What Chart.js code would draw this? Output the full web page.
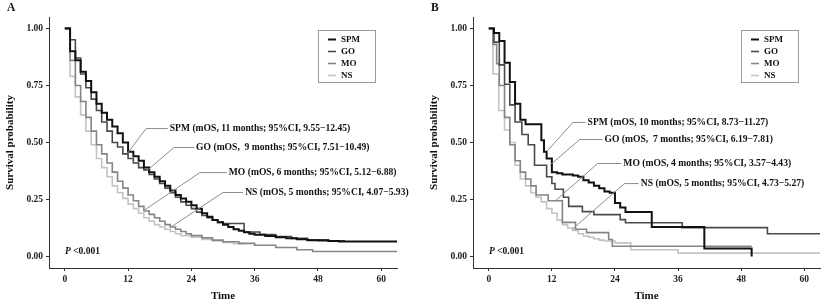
<!DOCTYPE html>
<html>
<head>
<meta charset="utf-8">
<script src="https://cdn.jsdelivr.net/npm/chart.js@4.4.0/dist/chart.umd.min.js"></script>
<style>
    body { margin: 0; background: #fff; }
    #wrap { position: relative; width: 824px; height: 305px; }
    canvas { position: absolute; top: 0; }
    #chartA { left: 0; }
    #chartB { left: 412px; }
</style>
</head>
<body>
<div id="wrap">
    <canvas id="chartA" width="412" height="305"></canvas>
    <canvas id="chartB" width="412" height="305"></canvas>
</div>
<script>
// groups and axis ticks
const groups = ['SPM', 'GO', 'MO', 'NS'];
const xTicks = [0, 12, 24, 36, 48, 60];
const yTicks = [0, 0.25, 0.5, 0.75, 1];

// panel A survival curves (time in months, survival probability)
const timeA_SPM = [0,1,2,3,4,5,6,7,8,9,10,11,12,13,14,15,16,17,18,19,20,21,22,23,24,25,26,27,28,29,30,31,32,33,34,35,36,38,40,42,44,46,48,50,52,63];
const survA_SPM = [1,0.90,0.86,0.81,0.77,0.72,0.67,0.63,0.60,0.57,0.54,0.50,0.46,0.44,0.42,0.39,0.37,0.35,0.33,0.31,0.29,0.27,0.255,0.24,0.225,0.21,0.19,0.175,0.16,0.15,0.14,0.13,0.12,0.113,0.107,0.10,0.096,0.09,0.085,0.08,0.076,0.072,0.07,0.068,0.066,0.066];
const timeA_GO = [0,1,2,3,4,5,6,7,8,9,10,11,12,13,14,15,16,17,18,19,20,21,22,23,24,25,26,27,28,29,30,34,37,40,43,46,50,53];
const survA_GO = [1,0.95,0.87,0.80,0.74,0.69,0.64,0.59,0.55,0.50,0.48,0.45,0.43,0.41,0.39,0.38,0.36,0.34,0.32,0.30,0.28,0.26,0.24,0.225,0.21,0.195,0.18,0.17,0.16,0.15,0.145,0.108,0.097,0.088,0.08,0.074,0.069,0.066];
const timeA_MO = [0,1,2,3,4,5,6,7,8,9,10,11,12,13,14,15,16,17,18,19,20,21,22,23,24,26,28,30,33,36,40,44,47,63];
const survA_MO = [1,0.86,0.75,0.68,0.61,0.55,0.49,0.45,0.41,0.37,0.33,0.30,0.27,0.245,0.22,0.20,0.185,0.17,0.155,0.14,0.13,0.12,0.11,0.10,0.092,0.082,0.072,0.065,0.058,0.05,0.04,0.03,0.022,0.022];
const timeA_NS = [0,1,2,3,4,5,6,7,8,9,10,11,12,13,14,15,16,17,18,19,20,21,22,24,26,28,30,32,34];
const survA_NS = [1,0.79,0.70,0.62,0.55,0.49,0.43,0.39,0.35,0.31,0.28,0.255,0.23,0.21,0.19,0.17,0.155,0.14,0.13,0.12,0.11,0.10,0.092,0.085,0.075,0.068,0.062,0.057,0.053];

// panel B survival curves
const timeB_SPM = [0,1,2,3,4,5,6,7,10,10.5,11,12,13,14,16,17,18,19,20,21,22,23,24,25,26,31,41,50];
const survB_SPM = [1,0.98,0.945,0.85,0.765,0.67,0.60,0.58,0.51,0.46,0.43,0.37,0.365,0.36,0.355,0.35,0.335,0.325,0.31,0.30,0.285,0.28,0.235,0.215,0.195,0.13,0.035,0];
const timeB_GO = [0,1,2,3,4,5,6.3,7.5,8.7,11,12,12.6,14.2,15.2,17.8,20,25,26,36.8,53,63];
const survB_GO = [1,0.94,0.84,0.755,0.665,0.59,0.535,0.49,0.40,0.35,0.32,0.295,0.26,0.22,0.197,0.184,0.162,0.148,0.127,0.10,0.10];
const timeB_MO = [0,0.8,1.5,2,3,4,5,6,7,8,9,11.3,14,16.5,18.6,22.8,23.5,50];
const survB_MO = [1,0.93,0.845,0.75,0.61,0.49,0.42,0.37,0.34,0.31,0.27,0.245,0.15,0.12,0.105,0.075,0.045,0.045];
const timeB_NS = [0,0.8,1.9,3,4,5,6,7,8,9,10,11,12,13,14,15,16,17,18,19,20,21,22,24,27,36,63];
const survB_NS = [1,0.80,0.64,0.555,0.50,0.40,0.34,0.31,0.28,0.26,0.24,0.21,0.19,0.16,0.14,0.125,0.115,0.10,0.09,0.085,0.078,0.072,0.068,0.06,0.03,0.015,0.015];

// median OS labels
const notesA = ['SPM (mOS, 11 months; 95%CI, 9.55\u221212.45)', 'GO (mOS,  9 months; 95%CI, 7.51\u221210.49)', 'MO (mOS, 6 months; 95%CI, 5.12\u22126.88)', 'NS (mOS, 5 months; 95%CI, 4.07\u22125.93)'];
const notesB = ['SPM (mOS, 10 months; 95%CI, 8.73\u221211.27)', 'GO (mOS,  7 months; 95%CI, 6.19\u22127.81)', 'MO (mOS, 4 months; 95%CI, 3.57\u22124.43)', 'NS (mOS, 5 months; 95%CI, 4.73\u22125.27)'];

const serif = '"Liberation Serif", "Times New Roman", serif';
const lineColors = ['#111111', '#4a4a4a', '#858585', '#c4c4c4'];
const lineWidths = [2, 1.6, 1.6, 1.6];

// where the leader lines go: [from x, from y, elbow x, elbow y, text x] in data units
const leadersA = [[12.0, 0.456, 15.4, 0.561, 19.9], [15.6, 0.377, 20.7, 0.478, 24.9], [15.0, 0.202, 25.6, 0.368, 31.1], [20.3, 0.132, 30.0, 0.281, 34.2]];
const leadersB = [[11.2, 0.465, 16.0, 0.588, 18.8], [11.6, 0.40, 17.3, 0.513, 22.0], [12.5, 0.241, 20.7, 0.408, 25.6], [15.8, 0.118, 25.8, 0.32, 28.9]];

const overlay = {
    id: 'overlay',
    afterDatasetsDraw(chart, args, opts) {
        const ctx = chart.ctx;
        const area = chart.chartArea;
        const x = chart.scales.x, y = chart.scales.y;
        ctx.save();

        // leader lines and mOS labels
        ctx.font = 'bold 9.6px ' + serif;
        ctx.textBaseline = 'middle';
        ctx.textAlign = 'left';
        opts.leaders.forEach((l, i) => {
            const x0 = x.getPixelForValue(l[0]), y0 = y.getPixelForValue(l[1]);
            const x1 = x.getPixelForValue(l[2]), y1 = y.getPixelForValue(l[3]);
            const xt = x.getPixelForValue(l[4]);
            ctx.strokeStyle = '#8c8c8c';
            ctx.lineWidth = 1;
            ctx.beginPath();
            ctx.moveTo(x0, y0);
            ctx.lineTo(x1, y1);
            ctx.lineTo(xt - 2, y1);
            ctx.stroke();
            ctx.fillStyle = '#111';
            ctx.fillText(opts.notes[i], xt, y1);
        });

        // legend box
        const bx = area.right - 79, by = 30, bw = 57, bh = 52;
        ctx.strokeStyle = '#9a9a9a';
        ctx.lineWidth = 1;
        ctx.strokeRect(bx + 0.5, by + 0.5, bw, bh);
        ctx.font = 'bold 9px ' + serif;
        groups.forEach((g, i) => {
            const ly = by + 9.5 + i * 12;
            ctx.strokeStyle = lineColors[i];
            ctx.lineWidth = lineWidths[i];
            ctx.beginPath();
            ctx.moveTo(bx + 10, ly);
            ctx.lineTo(bx + 18, ly);
            ctx.stroke();
            ctx.fillStyle = '#111';
            ctx.fillText(g, bx + 23, ly);
        });

        // p value
        ctx.font = 'italic bold 9.5px ' + serif;
        ctx.fillText('P', area.left + 16, 252);
        const pw = ctx.measureText('P ').width;
        ctx.font = 'bold 9.5px ' + serif;
        ctx.fillText('<0.001', area.left + 16 + pw, 252);

        // panel letter
        ctx.font = 'bold 11.5px ' + serif;
        ctx.fillText(opts.letter, area.left - 42, 8);
        ctx.restore();
    }
};

function makeChart(id, series, notes, leaders, letter, padLeft, padRight) {
    return new Chart(document.getElementById(id), {
        type: 'line',
        data: {
            datasets: series.map((s, i) => ({
                label: groups[i],
                data: s[0].map((t, k) => ({ x: t, y: s[1][k] })),
                borderColor: lineColors[i],
                borderWidth: lineWidths[i],
                stepped: true,
                pointRadius: 0,
                fill: false
            }))
        },
        options: {
            responsive: false,
            animation: false,
            events: [],
            devicePixelRatio: 1,
            layout: { padding: { top: 17, left: padLeft, right: padRight, bottom: 0 } },
            plugins: {
                legend: { display: false },
                tooltip: { enabled: false },
                overlay: { notes: notes, leaders: leaders, letter: letter }
            },
            scales: {
                x: {
                    type: 'linear',
                    min: -3,
                    max: 63,
                    afterBuildTicks: s => { s.ticks = xTicks.map(v => ({ value: v })); },
                    afterFit: s => { s.height = 37; },
                    grid: { drawOnChartArea: false, tickLength: 3, color: '#333' },
                    border: { color: '#333', width: 1 },
                    ticks: { color: '#222', padding: 3, maxRotation: 0, font: { family: serif, size: 9.5, weight: 'bold' } },
                    title: { display: true, text: 'Time', color: '#111', padding: { top: 0, bottom: 2 }, font: { family: serif, size: 11, weight: 'bold' } }
                },
                y: {
                    type: 'linear',
                    min: -0.05,
                    max: 1.05,
                    afterBuildTicks: s => { s.ticks = yTicks.map(v => ({ value: v })); },
                    afterFit: s => { s.width = 49; },
                    grid: { drawOnChartArea: false, tickLength: 3, color: '#333' },
                    border: { color: '#333', width: 1 },
                    ticks: { color: '#222', padding: 3, font: { family: serif, size: 9.5, weight: 'bold' }, callback: v => v.toFixed(2) },
                    title: { display: true, text: 'Survival probability', color: '#111', padding: { top: 4, bottom: 0 }, font: { family: serif, size: 11, weight: 'bold' } }
                }
            }
        },
        plugins: [overlay]
    });
}

makeChart('chartA',
    [[timeA_SPM, survA_SPM], [timeA_GO, survA_GO], [timeA_MO, survA_MO], [timeA_NS, survA_NS]],
    notesA, leadersA, 'A', 0, 15);
makeChart('chartB',
    [[timeB_SPM, survB_SPM], [timeB_GO, survB_GO], [timeB_MO, survB_MO], [timeB_NS, survB_NS]],
    notesB, leadersB, 'B', 12, 4);
</script>
</body>
</html>
